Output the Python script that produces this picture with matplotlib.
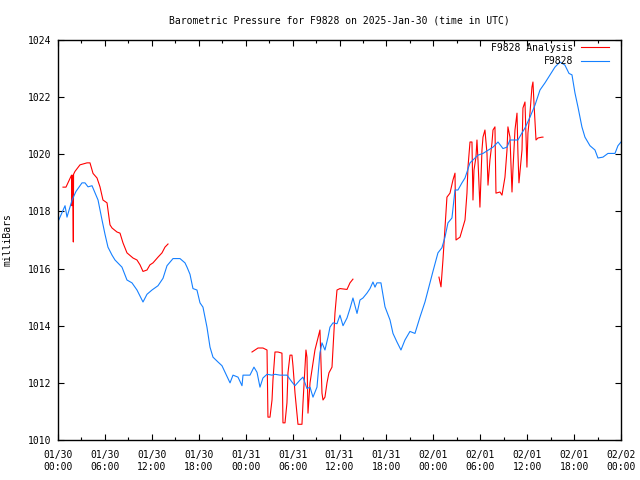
"""Barometric pressure chart for F9828, gnuplot-like look."""

from datetime import datetime, timedelta

import matplotlib
matplotlib.use("Agg")
import matplotlib.pyplot as plt
import matplotlib.dates as mdates
import numpy as np

# ---------------------------------------------------------------------------
# Data (hours since 2025-01-30 00:00 UTC, pressure in mbar)
# ---------------------------------------------------------------------------
START = datetime(2025, 1, 30, 0, 0)

obs_hours = [
    0.0, 0.9, 1.15, 1.8, 2.3, 3.07, 3.45, 3.84, 4.35, 4.73, 5.12, 5.63, 6.01,
    6.39, 6.91, 7.29, 8.18, 8.82, 9.46, 10.1, 10.87, 11.38, 12.02, 12.79,
    13.43, 13.94, 14.71, 15.6, 16.24, 16.5, 16.88, 17.26, 17.77, 18.16, 18.54,
    19.05, 19.44, 19.82, 20.46, 20.97, 21.36, 22.0, 22.38, 23.02, 23.53, 23.66,
    24.55, 25.06, 25.45, 25.83, 26.21, 26.73, 27.37, 27.75, 28.39, 29.28,
    29.92, 30.31, 30.95, 31.33, 31.84, 32.23, 32.61, 33.12, 33.5, 33.76, 34.14,
    34.53, 34.78, 35.17, 35.68, 36.06, 36.45, 36.96, 37.34, 37.72, 38.24,
    38.62, 39.0, 39.51, 39.9, 40.28, 40.54, 40.79, 41.3, 41.82, 42.46, 42.84,
    43.35, 43.86, 44.37, 45.01, 45.65, 46.29, 46.93, 47.57, 47.95, 48.59, 49.1,
    49.49, 49.87, 50.38, 50.77, 51.15, 51.66, 52.05, 52.69, 53.07, 53.71,
    54.35, 55.63, 56.27, 56.91, 57.42, 57.8, 58.82, 59.34, 59.72, 60.36, 61.0,
    61.64, 62.28, 62.92, 63.55, 64.19, 64.83, 65.35, 65.73, 66.11, 66.5, 67.0,
    67.39, 68.03, 68.67, 69.05, 69.69, 70.33, 71.23, 71.61, 72.0,
]
obs_mbar = [
    1017.64, 1018.2, 1017.8, 1018.4, 1018.7, 1019.0, 1019.0, 1018.86, 1018.9,
    1018.65, 1018.4, 1017.7, 1017.2, 1016.75, 1016.47, 1016.3, 1016.05,
    1015.6, 1015.5, 1015.25, 1014.83, 1015.1, 1015.25, 1015.4, 1015.66,
    1016.1, 1016.35, 1016.35, 1016.2, 1016.05, 1015.8, 1015.3, 1015.25,
    1014.8, 1014.65, 1013.95, 1013.25, 1012.9, 1012.73, 1012.6, 1012.37,
    1012.0, 1012.27, 1012.2, 1011.9, 1012.27, 1012.27, 1012.55, 1012.37,
    1011.85, 1012.17, 1012.3, 1012.27, 1012.3, 1012.27, 1012.27, 1012.03,
    1011.9, 1012.1, 1012.2, 1011.8, 1011.85, 1011.5, 1011.85, 1013.05,
    1013.4, 1013.15, 1013.6, 1013.95, 1014.1, 1014.07, 1014.37, 1014.0,
    1014.27, 1014.6, 1014.97, 1014.43, 1014.9, 1014.97, 1015.14, 1015.3,
    1015.53, 1015.35, 1015.5, 1015.5, 1014.66, 1014.2, 1013.73, 1013.43,
    1013.15, 1013.5, 1013.8, 1013.73, 1014.3, 1014.83, 1015.5, 1015.9,
    1016.55, 1016.73, 1017.1, 1017.6, 1017.77, 1018.75, 1018.75, 1019.0,
    1019.17, 1019.7, 1019.8, 1019.97, 1020.03, 1020.25, 1020.43, 1020.2,
    1020.25, 1020.5, 1020.5, 1020.75, 1020.92, 1021.3, 1021.72, 1022.25,
    1022.5, 1022.78, 1023.05, 1023.23, 1023.12, 1022.83, 1022.78, 1022.15,
    1021.65, 1020.96, 1020.6, 1020.3, 1020.15, 1019.87, 1019.9, 1020.03,
    1020.03, 1020.3, 1020.43,
]

# analysis: three separate runs with gaps between them
ana1_hours = [
    0.64, 1.02, 1.73, 1.79, 1.85, 1.92, 1.96, 1.99, 2.17, 2.81, 3.71, 4.09,
    4.48, 4.99, 5.37, 5.75, 6.27, 6.65, 6.91, 7.54, 7.93, 8.31, 8.82, 9.59,
    10.1, 10.49, 10.87, 11.38, 11.76, 12.15, 12.79, 13.3, 13.68, 14.07,
]
ana1_mbar = [
    1018.85, 1018.85, 1019.27, 1018.2, 1019.27, 1018.1, 1016.93, 1019.3,
    1019.4, 1019.63, 1019.7, 1019.7, 1019.33, 1019.17, 1018.86, 1018.4,
    1018.3, 1017.53, 1017.42, 1017.28, 1017.24, 1016.9, 1016.55, 1016.37,
    1016.3, 1016.13, 1015.9, 1015.95, 1016.13, 1016.2, 1016.4, 1016.55,
    1016.75, 1016.86,
]
ana2_hours = [
    24.81, 25.58, 26.21, 26.73, 26.85, 27.11, 27.37, 27.49, 27.75, 28.13,
    28.64, 28.77, 29.03, 29.28, 29.41, 29.67, 29.92, 30.05, 30.31, 30.69,
    31.2, 31.33, 31.71, 31.84, 31.97, 32.23, 32.48, 32.86, 33.5, 33.76, 33.89,
    34.14, 34.4, 34.65, 35.04, 35.42, 35.68, 36.06, 36.96, 37.34, 37.72,
]
ana2_mbar = [
    1013.08, 1013.22, 1013.22, 1013.15, 1010.8, 1010.8, 1011.4, 1012.1,
    1013.08, 1013.08, 1013.04, 1010.6, 1010.6, 1011.3, 1012.35, 1012.97,
    1012.97, 1012.6, 1011.64, 1010.55, 1010.55, 1011.3, 1013.15, 1012.9,
    1010.94, 1012.0, 1012.45, 1013.15, 1013.85, 1011.64, 1011.4, 1011.5,
    1012.0, 1012.35, 1012.55, 1014.44, 1015.25, 1015.3, 1015.27, 1015.5,
    1015.63,
]
ana3_hours = [
    48.72, 48.98, 49.23, 49.74, 50.13, 50.51, 50.77, 50.9, 51.41, 51.79,
    52.05, 52.3, 52.43, 52.69, 52.94, 53.07, 53.2, 53.45, 53.58, 53.71, 53.96,
    54.22, 54.35, 54.6, 54.86, 54.99, 55.24, 55.5, 55.63, 55.88, 56.01, 56.52,
    56.78, 57.16, 57.42, 57.54, 57.8, 58.06, 58.18, 58.44, 58.7, 58.82, 58.95,
    59.34, 59.46, 59.72, 59.97, 60.1, 60.36, 60.61, 60.74, 60.87, 61.13,
    61.38, 61.89, 62.02,
]
ana3_mbar = [
    1015.7, 1015.36, 1016.3, 1018.5, 1018.64, 1019.1, 1019.34, 1017.0,
    1017.1, 1017.45, 1017.7, 1018.64, 1019.55, 1020.43, 1020.43, 1018.4,
    1019.45, 1019.9, 1020.5, 1019.8, 1018.15, 1020.15, 1020.6, 1020.85,
    1020.03, 1018.92, 1019.8, 1020.4, 1020.85, 1020.96, 1018.64, 1018.68,
    1018.57, 1019.2, 1020.15, 1020.96, 1020.6, 1018.68, 1019.45, 1020.85,
    1021.44, 1020.03, 1019.0, 1020.15, 1021.62, 1021.83, 1019.55, 1020.75,
    1021.44, 1022.35, 1022.53, 1021.8, 1020.5, 1020.57, 1020.6, 1020.6,
]

CLR_ANA = "#ff0000"
CLR_OBS = "#1580ff"
FONT = "DejaVu Sans Mono"


def to_dt(hours):
    return [START + timedelta(hours=h) for h in hours]


plt.rcParams["font.family"] = FONT
plt.rcParams["font.size"] = 7

fig = plt.figure(figsize=(6.4, 4.8), dpi=100)
ax = fig.add_axes([58 / 640, 40 / 480, 563 / 640, 400 / 480])

# join analysis runs with NaN breaks so they draw as one series
ana_t, ana_p = [], []
for hh, pp in ((ana1_hours, ana1_mbar), (ana2_hours, ana2_mbar), (ana3_hours, ana3_mbar)):
    if ana_t:
        ana_t.append(START + timedelta(hours=hh[0] - 0.01))
        ana_p.append(np.nan)
    ana_t += to_dt(hh)
    ana_p += pp

ax.plot(ana_t, ana_p, color=CLR_ANA, linewidth=0.8, label="F9828 Analysis")
ax.plot(to_dt(obs_hours), obs_mbar, color=CLR_OBS, linewidth=0.8, label="F9828")

ax.set_xlim(START, START + timedelta(hours=72))
ax.set_ylim(1010, 1024)
ax.set_yticks(np.arange(1010, 1025, 2))

ax.xaxis.set_major_locator(mdates.HourLocator(byhour=range(0, 24, 6)))
ax.xaxis.set_minor_locator(mdates.HourLocator(byhour=range(3, 24, 6)))
ax.xaxis.set_major_formatter(mdates.DateFormatter("%m/%d\n%H:%M"))

ax.tick_params(which="both", direction="in", top=True, right=True, colors="black")
ax.tick_params(which="major", length=4, width=0.8, labelsize=7, pad=5)
ax.tick_params(which="minor", length=2, width=0.8)
ax.tick_params(axis="x", which="major", pad=7)
for lbl in ax.get_xticklabels():
    lbl.set_linespacing(1.3)
for spine in ax.spines.values():
    spine.set_linewidth(1.0)

ax.set_ylabel("milliBars", fontsize=7, labelpad=11)
ax.set_title("Barometric Pressure for F9828 on 2025-Jan-30 (time in UTC)",
             fontsize=7, pad=12)

ax.legend(loc="upper right", bbox_to_anchor=(0.979, 0.993), frameon=False,
          markerfirst=False, borderpad=0, borderaxespad=0, handlelength=2.9,
          handletextpad=0.8, labelspacing=0.35, fontsize=7)

fig.savefig("out.png", dpi=100)
